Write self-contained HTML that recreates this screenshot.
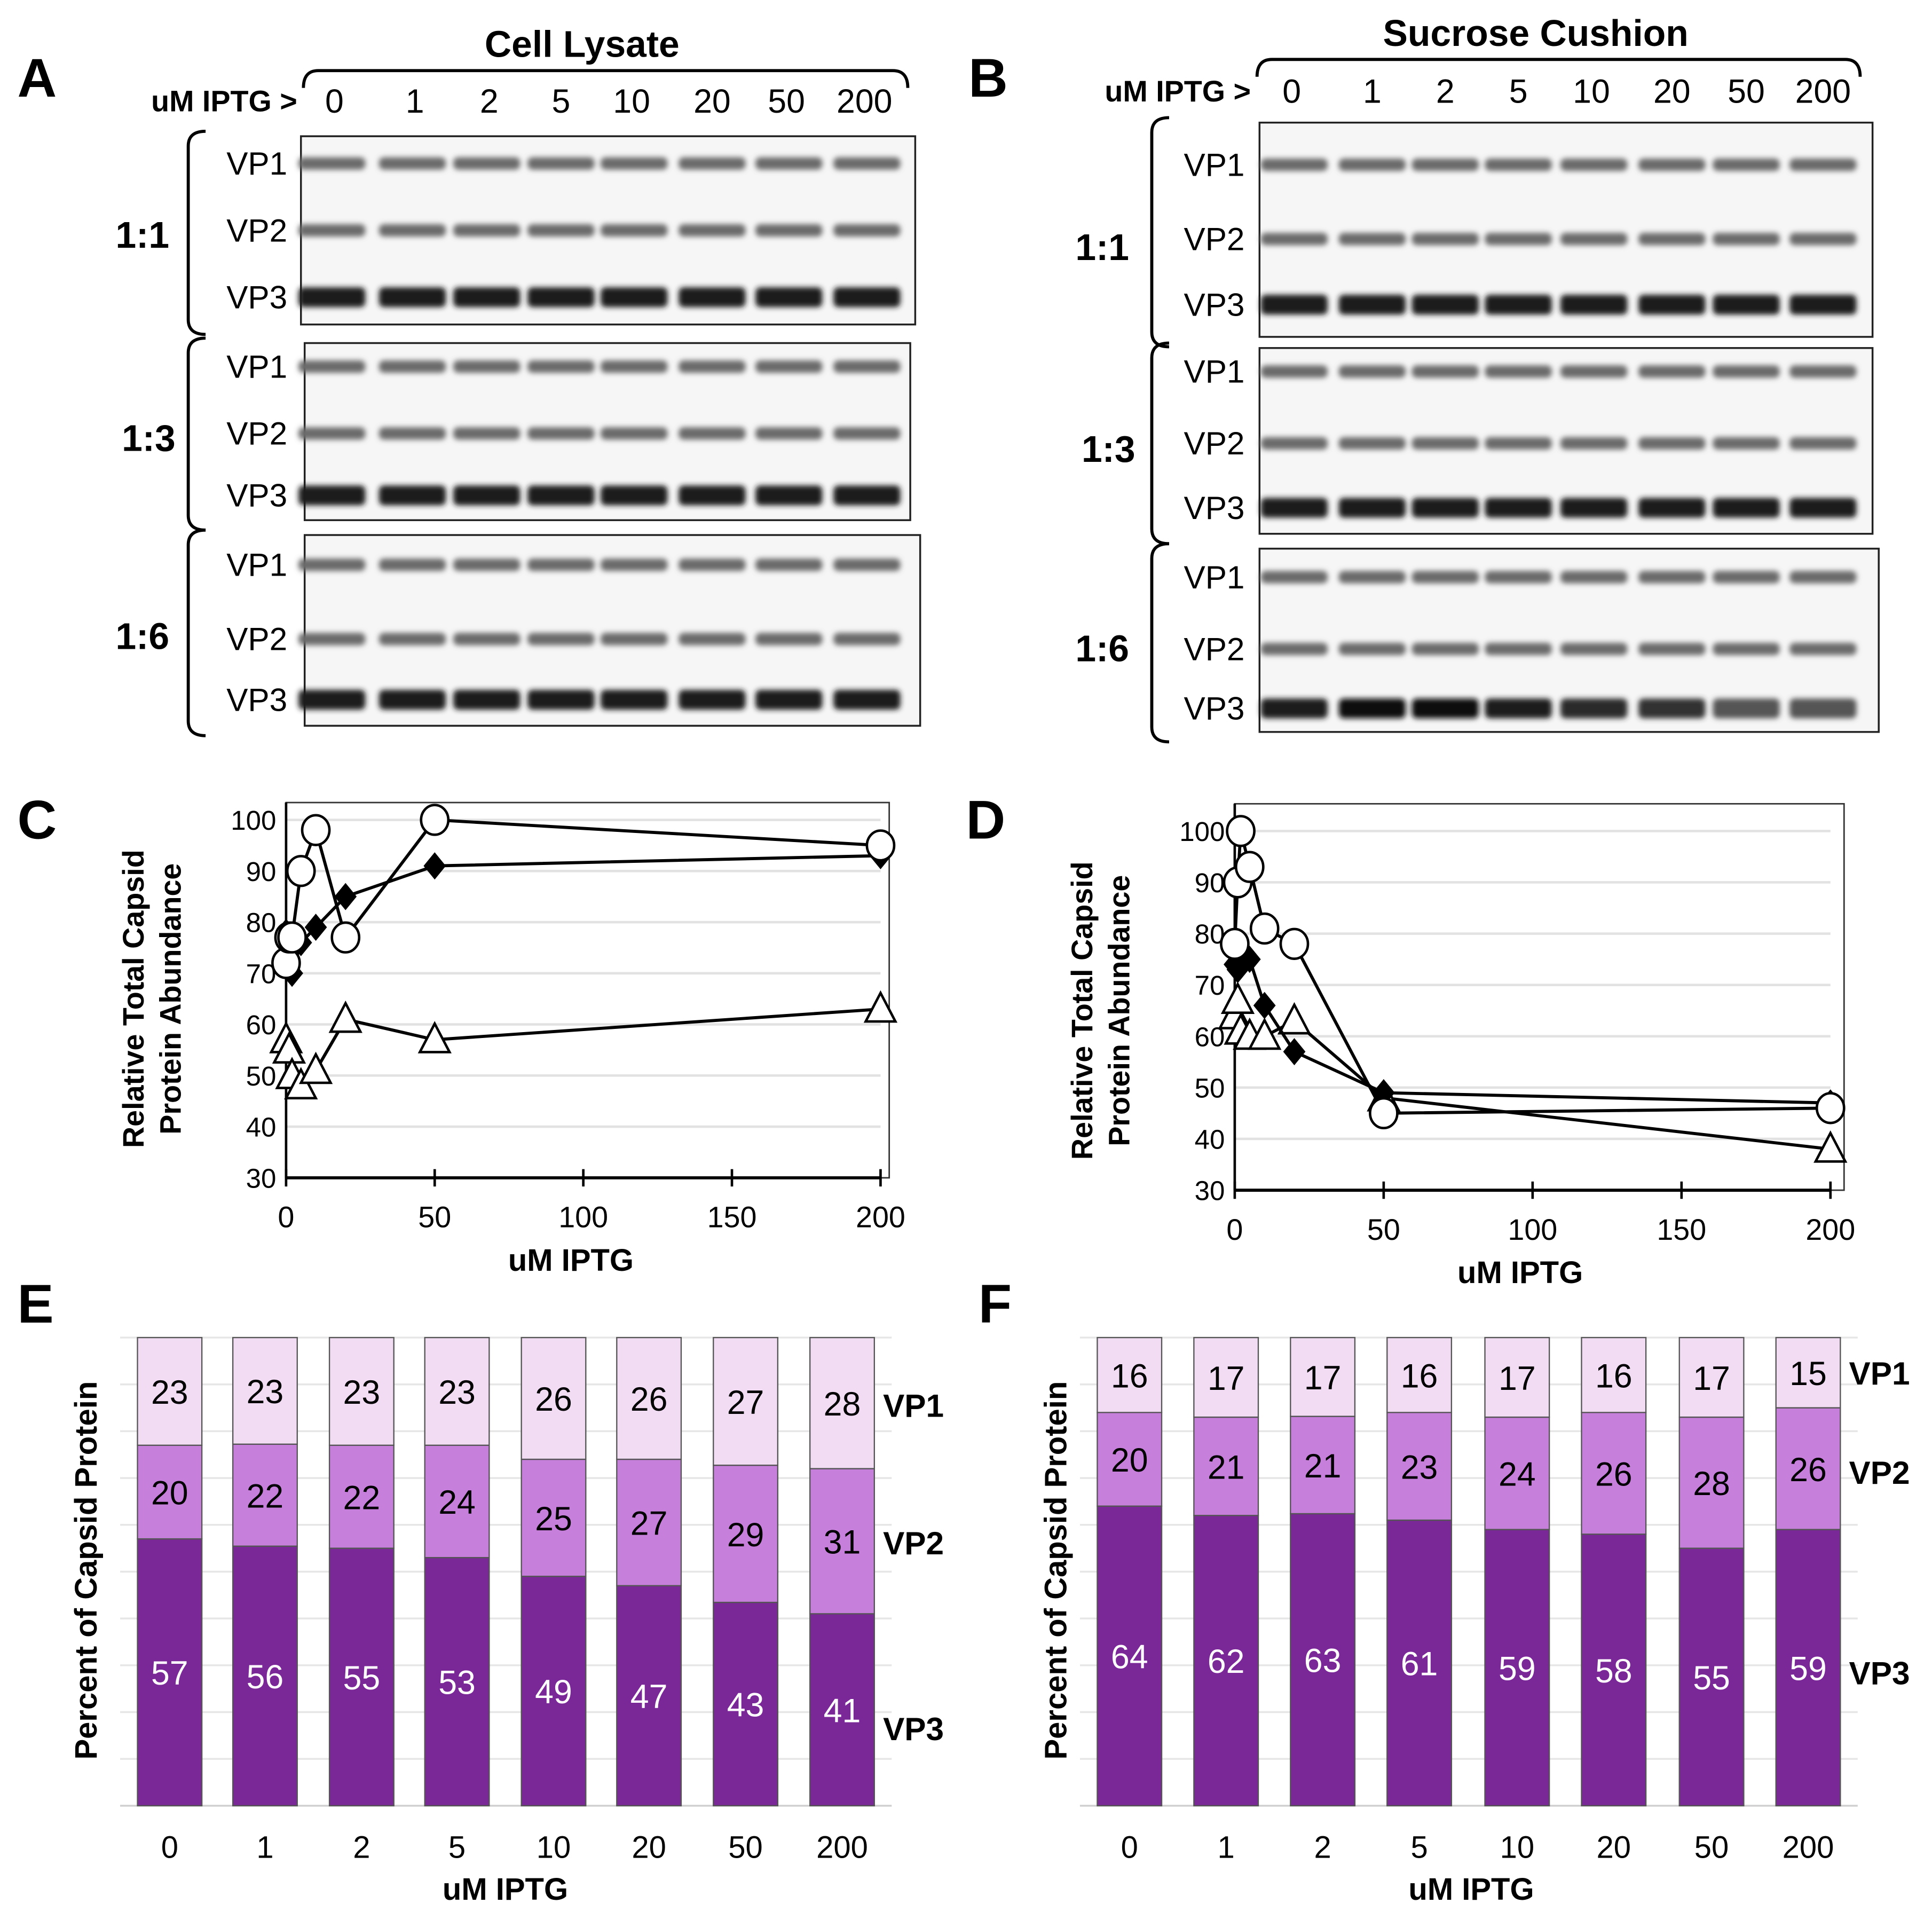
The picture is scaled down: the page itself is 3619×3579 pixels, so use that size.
<!DOCTYPE html>
<html><head><meta charset="utf-8">
<style>
html,body{margin:0;padding:0;background:#fff;}
svg{display:block;font-family:"Liberation Sans",Arial,sans-serif;}
</style></head>
<body>
<svg id="fig" width="3619" height="3579" viewBox="0 0 1560 1543" preserveAspectRatio="none" xmlns="http://www.w3.org/2000/svg">
<defs>
<filter id="blur" x="-20%" y="-50%" width="140%" height="200%"><feGaussianBlur stdDeviation="2.2"/></filter>
</defs>
<rect width="1560" height="1543" fill="#fff"/>
<g font-weight="bold" font-size="44" fill="#000">
<text x="14" y="78">A</text>
<text x="782" y="78">B</text>
<text x="14" y="677">C</text>
<text x="780" y="677">D</text>
<text x="14" y="1068">E</text>
<text x="790" y="1068">F</text>
</g>
<g id="blots"></g>
<g id="lineC"></g>
<g id="lineD"></g>
<g id="barE"></g>
<g id="barF"></g>
</svg>
<script>
// ---- data ----
const iptgLabels = ["0","1","2","5","10","20","50","200"];
const iptgValues = [0,1,2,5,10,20,50,200];
const cCircle = [72,77,77,90,98,77,100,95];
const cDiamond = [78,77,70,76,79,85,91,93];
const cTriangle = [57,55,50,48,51,61,57,63];
const dCircle = [78,90,100,93,81,78,45,46];
const dDiamond = [74,73,77,75,66,57,49,47];
const dTriangle = [64,67,61,60,60,63,48,38];
const yTicks = [30,40,50,60,70,80,90,100];
const xTicks = [0,50,100,150,200];
const eVP1 = [23,23,23,23,26,26,27,28];
const eVP2 = [20,22,22,24,25,27,29,31];
const eVP3 = [57,56,55,53,49,47,43,41];
const fVP1 = [16,17,17,16,17,16,17,15];
const fVP2 = [20,21,21,23,24,26,28,26];
const fVP3 = [64,62,63,61,59,58,55,59];

const NS="http://www.w3.org/2000/svg";
function mk(parent,tag,attrs,text){const e=document.createElementNS(NS,tag);for(const k in attrs)e.setAttribute(k,attrs[k]);if(text!==undefined)e.textContent=text;parent.appendChild(e);return e;}

// ---- blots ----
const blots=document.getElementById('blots');
function header(title,tx,ty,bx0,bx1,by,ipx,ipy,lanes,name){
  let t=mk(blots,'text',{x:tx,y:ty,'font-size':30,'font-weight':'bold','text-anchor':'middle'},title);
  
  
  let p=mk(blots,'path',{d:`M${bx0} ${by+14} Q${bx0} ${by} ${bx0+12} ${by} L${bx1-12} ${by} Q${bx1} ${by} ${bx1} ${by+14}`,fill:'none',stroke:'#000','stroke-width':2.5});
  
  
  let u=mk(blots,'text',{x:ipx,y:ipy,'font-size':24,'font-weight':'bold','text-anchor':'end'},'uM IPTG >');
  
  
  lanes.forEach((lx,i)=>{let l=mk(blots,'text',{x:lx,y:ipy+1,'font-size':27,'text-anchor':'middle'},iptgLabels[i]);
    
    });
}
header('Cell Lysate',470,46,245,733,57,240,90,[270,335,395,453,510,575,635,698],'cell-lysate');
header('Sucrose Cushion',1240,37,1015,1502,48,1010,82,[1043,1108,1167,1226,1285,1350,1410,1472],'sucrose-cushion');

function blot(x,y,w,h,bands,lanes,labX,ratio,ratioX,ratioY,brX,name,dark){
  let r=mk(blots,'rect',{x:x,y:y,width:w,height:h,fill:'#f6f6f6',stroke:'#222','stroke-width':1.5});
  
  
  const g=mk(blots,'g',{filter:'url(#blur)'});
  bands.forEach((by,bi)=>{
    lanes.forEach((lx,li)=>{
      const hh = bi==2?16:10;
      const c = bi==2?(dark[li]||'#1e1e1e'):'#6a6a6a';
      let b=mk(g,'rect',{x:lx-27,y:by-hh/2,width:54,height:hh,rx:4,fill:c});
      
      
    });
    let t=mk(blots,'text',{x:labX,y:by+9,'font-size':26,'text-anchor':'end'},'VP'+(bi+1));
    
    
  });
  let rt=mk(blots,'text',{x:ratioX,y:ratioY,'font-size':30,'font-weight':'bold','text-anchor':'middle'},ratio);
  
  
  let br=mk(blots,'path',{d:`M${brX+14} ${y-4} Q${brX} ${y-4} ${brX} ${y+8} L${brX} ${y+h-4} Q${brX} ${y+h+8} ${brX+14} ${y+h+8}`,fill:'none',stroke:'#000','stroke-width':2.5});
  
  
}
const laneA=[268,333,393,453,512,575,637,700];
const laneB=[1045,1108,1167,1226,1287,1350,1410,1472];
blot(243,110,496,152,[132,186,240],laneA,232,'1:1',115,200,152,'blot-a-1-1',[]);
blot(246,277,489,143,[296,350,400],laneA,232,'1:3',120,364,152,'blot-a-1-3',[]);
blot(246,432,497,154,[456,516,565],laneA,232,'1:6',115,524,152,'blot-a-1-6',[]);
blot(1017,99,495,173,[133,193,246],laneB,1005,'1:1',890,210,930,'blot-b-1-1',[]);
blot(1017,281,495,150,[300,358,410],laneB,1005,'1:3',895,373,930,'blot-b-1-3',[]);
blot(1017,443,500,148,[466,524,572],laneB,1005,'1:6',890,534,930,'blot-b-1-6',['#1e1e1e','#111','#111','#1e1e1e','#2a2a2a','#333','#555','#555']);

// ---- line charts ----
function lineChart(gid,x0,x1,yTop,yBot,pad,series){
  const g=document.getElementById(gid);
  const X=v=>x0+(v-0)/(200-0)*(x1-x0);
  const Y=v=>yBot-(v-30)/(100-30)*(yBot-yTop);
  let box=mk(g,'rect',{x:x0,y:yTop-pad,width:x1-x0+pad/2,height:yBot-yTop+pad,fill:'none',stroke:'#333','stroke-width':1.2});
  
  
  yTicks.forEach(t=>{
    if(t>30){let l=mk(g,'line',{x1:x0,x2:x1,y1:Y(t),y2:Y(t),stroke:'#e2e2e2','stroke-width':2});
      
      }
    let tx=mk(g,'text',{x:x0-8,y:Y(t)+8,'font-size':22,'text-anchor':'end'},String(t));
    
    
  });
  let ax=mk(g,'line',{x1:x0,x2:x1,y1:yBot,y2:yBot,stroke:'#000','stroke-width':2.5});
  
  
  let ay=mk(g,'line',{x1:x0,x2:x0,y1:yTop-pad,y2:yBot,stroke:'#000','stroke-width':2});
  
  
  xTicks.forEach(t=>{
    let tk=mk(g,'line',{x1:X(t),x2:X(t),y1:yBot-7,y2:yBot+7,stroke:'#000','stroke-width':2});
    
    
    let tx=mk(g,'text',{x:X(t),y:yBot+40,'font-size':24,'text-anchor':'middle'},String(t));
    
    
  });
  let xt=mk(g,'text',{x:(x0+x1)/2-10,y:yBot+75,'font-size':25,'font-weight':'bold','text-anchor':'middle'},'uM IPTG');
  
  
  const cy=(yTop+yBot)/2;
  let yt=mk(g,'text',{transform:`translate(${x0-115},${cy}) rotate(-90)`,'font-size':24,'font-weight':'bold','text-anchor':'middle'});
  mk(yt,'tspan',{x:0,dy:0},'Relative Total Capsid');
  mk(yt,'tspan',{x:0,dy:30},'Protein Abundance');
  
  
  series.forEach(([vals,shape,name])=>{
    const pts=vals.map((v,i)=>X(iptgValues[i])+','+Y(v)).join(' ');
    let pl=mk(g,'polyline',{points:pts,fill:'none',stroke:'#000','stroke-width':2.5});
    
    
    vals.forEach((v,i)=>{
      const px=X(iptgValues[i]),py=Y(v);let m;
      if(shape==='circle')m=mk(g,'ellipse',{cx:px,cy:py,rx:11,ry:12,fill:'#fff',stroke:'#000','stroke-width':2});
      else if(shape==='diamond')m=mk(g,'polygon',{points:`${px},${py-11} ${px+9},${py} ${px},${py+11} ${px-9},${py}`,fill:'#000'});
      else m=mk(g,'polygon',{points:`${px},${py-13} ${px+12},${py+10} ${px-12},${py+10}`,fill:'#fff',stroke:'#000','stroke-width':2});
      
      
    });
  });
}
lineChart('lineC',231,711,662,951,14,[[cTriangle,'triangle','ratio-1-6'],[cDiamond,'diamond','ratio-1-1'],[cCircle,'circle','ratio-1-3']]);
lineChart('lineD',997,1478,671,961,22,[[dTriangle,'triangle','ratio-1-6'],[dDiamond,'diamond','ratio-1-1'],[dCircle,'circle','ratio-1-3']]);

// ---- stacked bar charts (normalized to 100%) ----
function barChart(gid,centers,yTop,yBot,v1,v2,v3,labX,labY,ytX,ytY,xtX){
  const g=document.getElementById(gid);
  const H=yBot-yTop;const Y=p=>yBot-p/100*H;
  for(let k=1;k<=10;k++){let l=mk(g,'line',{x1:centers[0]-40,x2:centers[7]+40,y1:Y(k*10),y2:Y(k*10),stroke:'#e6e6e6','stroke-width':1.5});
    
    }
  let ax=mk(g,'line',{x1:centers[0]-40,x2:centers[7]+40,y1:yBot,y2:yBot,stroke:'#d0d0d0','stroke-width':1.5});
  
  
  centers.forEach((cx,i)=>{
    const tot=v1[i]+v2[i]+v3[i];
    const sc=100/tot;
    const segs=[[v3[i],0,'#7a2897','#fff','vp3'],[v2[i],v3[i],'#c77fdc','#000','vp2'],[v1[i],v3[i]+v2[i],'#f1dcf4','#000','vp1']];
    segs.forEach(([v,base,col,tc,nm])=>{
      const b=base*sc,vv=v*sc;
      let r=mk(g,'rect',{x:cx-26,y:Y(b+vv),width:52,height:vv/100*H,fill:col,stroke:'#555','stroke-width':1});
      
      
      let t=mk(g,'text',{x:cx,y:Y(b+vv/2)+10,'font-size':27,fill:tc,'text-anchor':'middle'},String(v));
      
      
    });
    let xl=mk(g,'text',{x:cx,y:yBot+42,'font-size':25,'text-anchor':'middle'},iptgLabels[i]);
    
    
  });
  ['VP1','VP2','VP3'].forEach((s,i)=>{let t=mk(g,'text',{x:labX,y:labY[i],'font-size':26,'font-weight':'bold'},s);
    
    });
  let yt=mk(g,'text',{transform:`translate(${ytX},${ytY}) rotate(-90)`,'font-size':25,'font-weight':'bold','text-anchor':'middle'},'Percent of Capsid Protein');
  
  
  let xt=mk(g,'text',{x:xtX,y:yBot+76,'font-size':25,'font-weight':'bold','text-anchor':'middle'},'uM IPTG');
  
  
}
barChart('barE',[137,214,292,369,447,524,602,680],1080,1458,eVP1,eVP2,eVP3,713,[1144,1255,1405],78,1268,408);
barChart('barF',[912,990,1068,1146,1225,1303,1382,1460],1080,1458,fVP1,fVP2,fVP3,1493,[1118,1198,1360],861,1268,1188);
</script>
</body></html>
